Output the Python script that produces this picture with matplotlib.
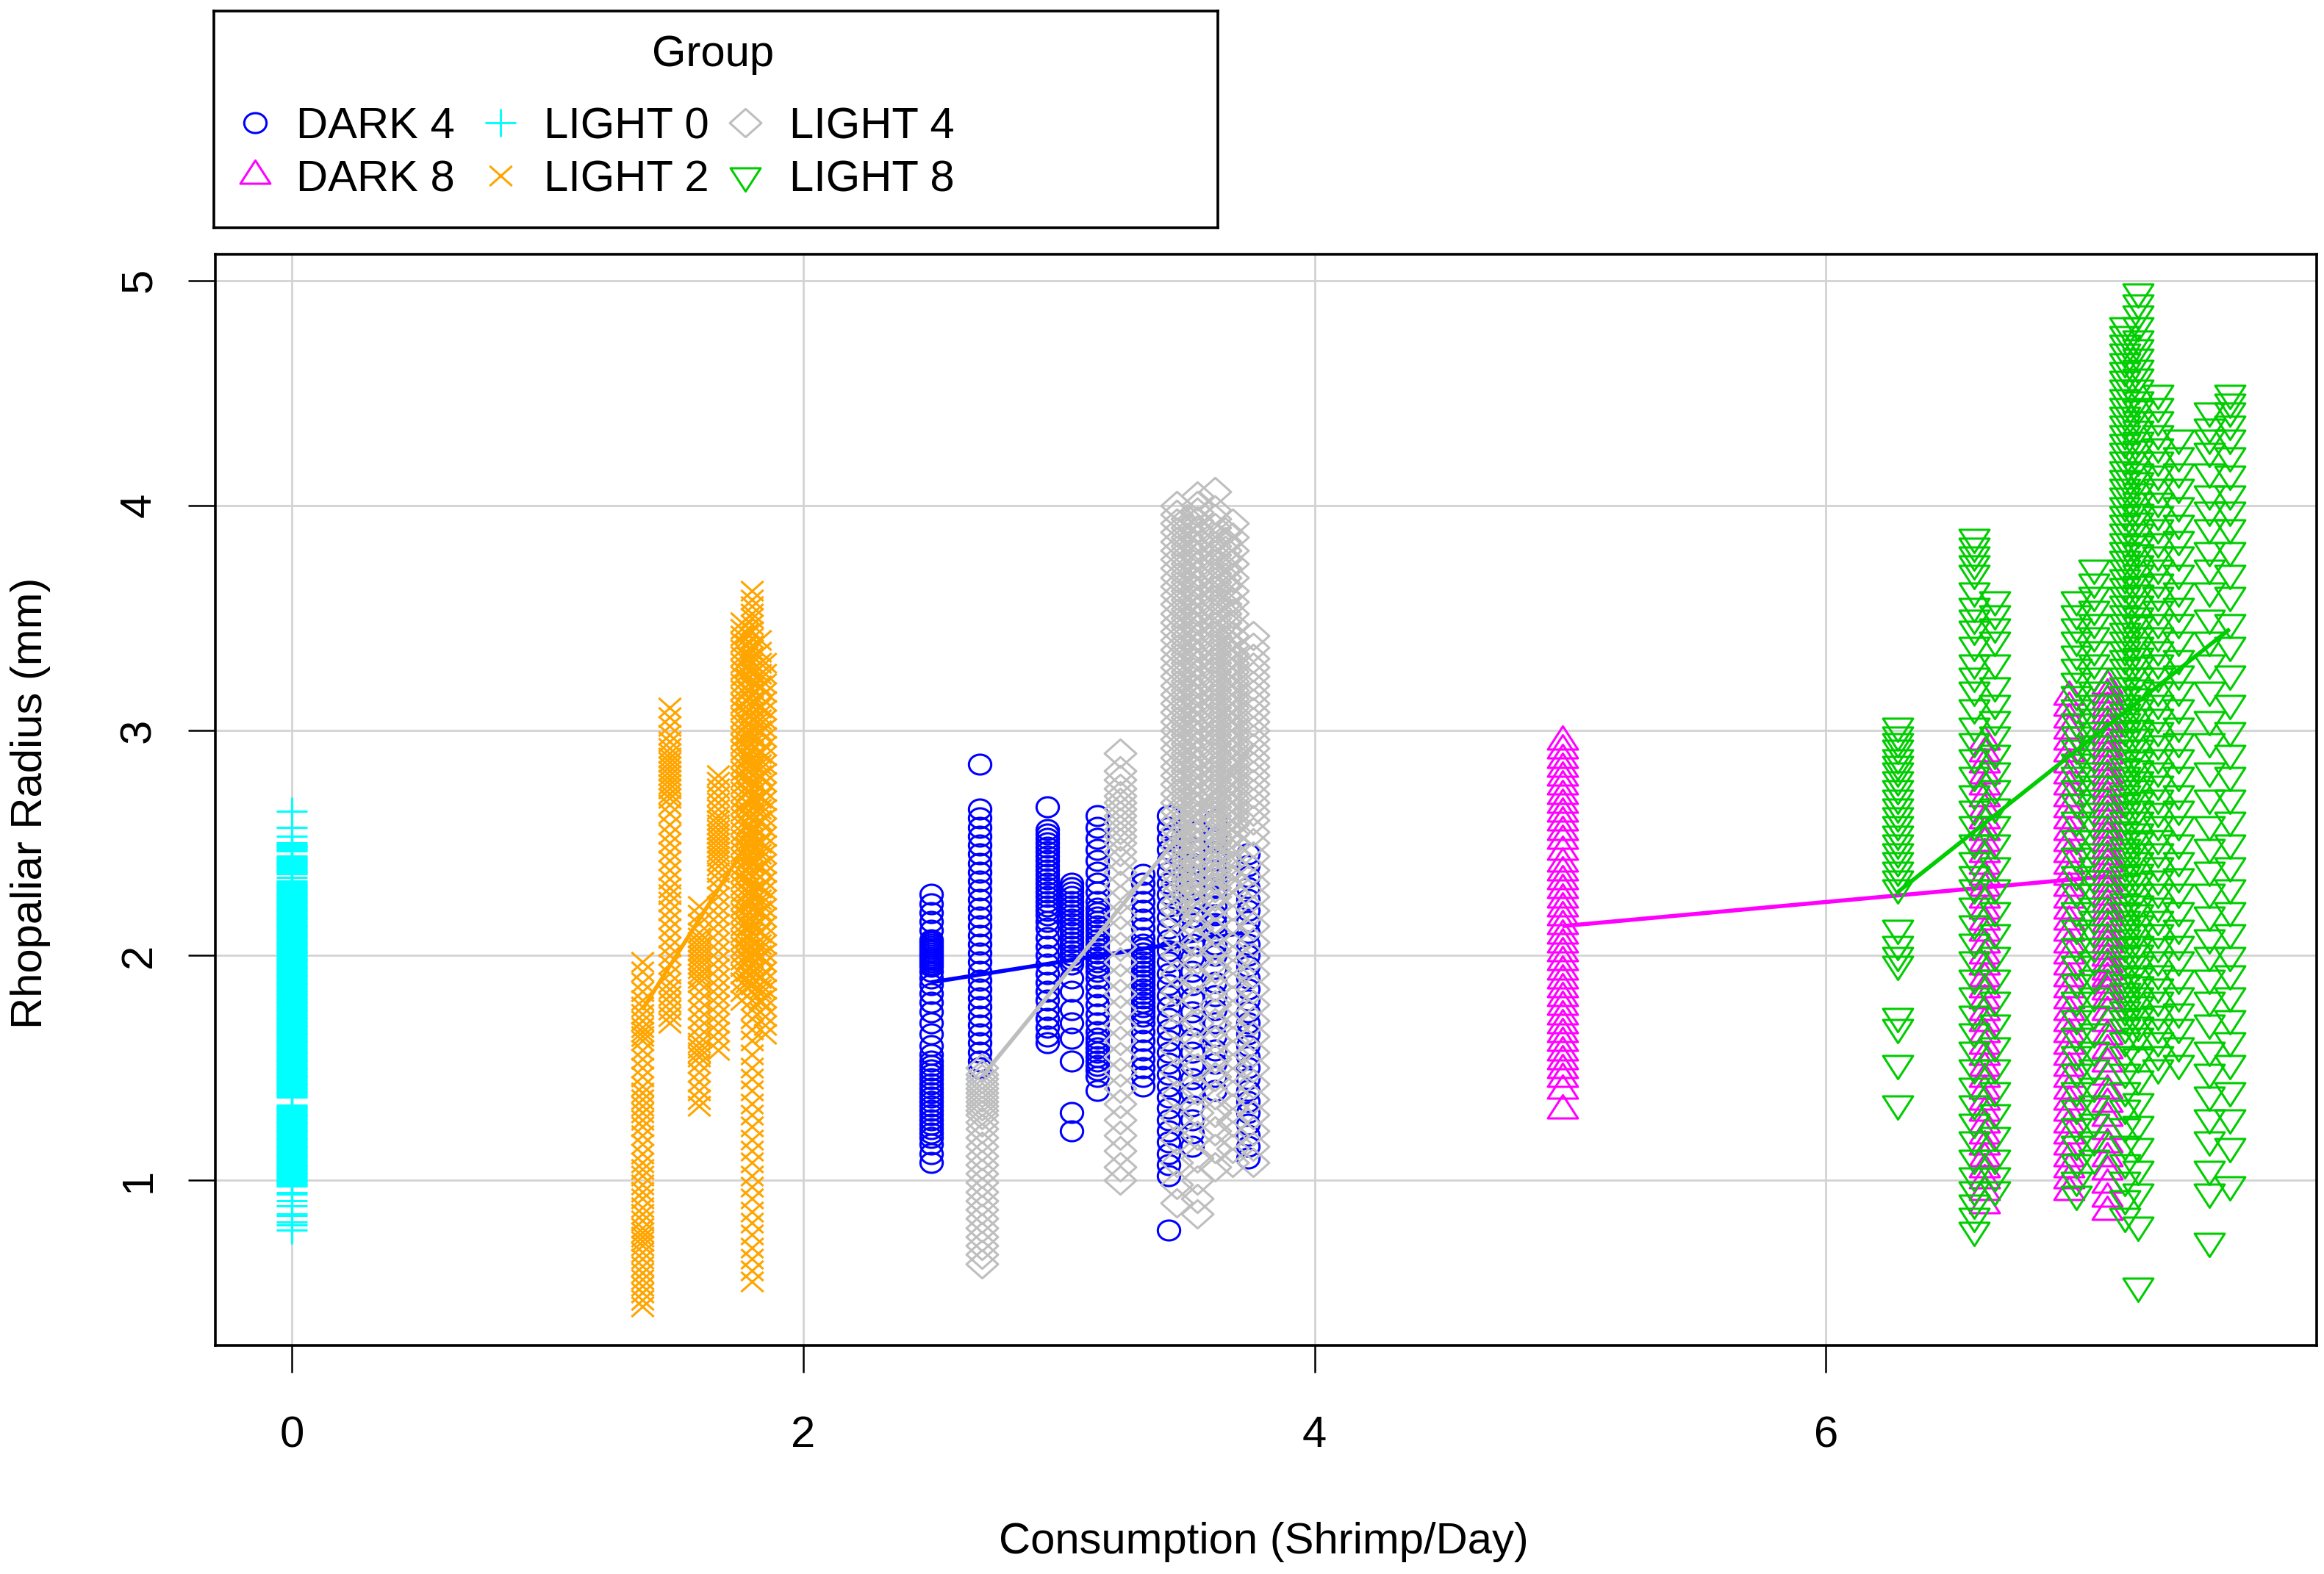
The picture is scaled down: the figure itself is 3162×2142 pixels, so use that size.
import numpy as np
import matplotlib
matplotlib.use("Agg")
import matplotlib.pyplot as plt
from matplotlib.path import Path

plt.rcParams['font.family'] = ['Liberation Sans', 'DejaVu Sans']

# ---------------- data ----------------
GROUPS = ["DARK 4", "DARK 8", "LIGHT 0", "LIGHT 2", "LIGHT 4", "LIGHT 8"]
COLORS = ["#0000FF", "#FF00FF", "#00FFFF", "#FFA500", "#BEBEBE", "#00CD00"]

DARK4_X = [2.50, 2.69, 2.955, 3.05, 3.15, 3.33, 3.43, 3.52, 3.61, 3.74]
DARK4_Y = [
    [2.27, 2.23, 2.19, 2.15, 2.11, 2.07, 2.06, 2.05, 2.04, 2.03, 2.02, 2.01, 2.00, 1.99, 1.98, 1.97,
     1.96, 1.95, 1.93, 1.90, 1.87, 1.83, 1.79, 1.75, 1.70, 1.65, 1.60, 1.56, 1.53, 1.51, 1.49, 1.47,
     1.45, 1.43, 1.41, 1.39, 1.37, 1.35, 1.33, 1.31, 1.29, 1.27, 1.25, 1.23, 1.21, 1.19, 1.16, 1.12, 1.08],
    [2.85, 2.65, 2.61, 2.57, 2.53, 2.49, 2.45, 2.41, 2.37, 2.33, 2.29, 2.25, 2.21, 2.17, 2.13, 2.09,
     2.05, 2.01, 1.97, 1.93, 1.89, 1.85, 1.81, 1.77, 1.73, 1.69, 1.65, 1.61, 1.57, 1.53, 1.50],
    [2.66, 2.56, 2.54, 2.52, 2.50, 2.48, 2.46, 2.44, 2.42, 2.40, 2.38, 2.36, 2.34, 2.32, 2.30, 2.28,
     2.26, 2.24, 2.22, 2.20, 2.18, 2.15, 2.12, 2.08, 2.04, 2.00, 1.96, 1.92, 1.88, 1.84, 1.80, 1.76,
     1.72, 1.68, 1.64, 1.61],
    [2.32, 2.30, 2.28, 2.26, 2.24, 2.22, 2.20, 2.18, 2.16, 2.14, 2.12, 2.10, 2.08, 2.06, 2.04, 2.02,
     2.00, 1.98, 1.96, 1.90, 1.84, 1.76, 1.70, 1.63, 1.53, 1.30, 1.22],
    [2.62, 2.57, 2.52, 2.47, 2.42, 2.37, 2.32, 2.28, 2.24, 2.21, 2.19, 2.17, 2.15, 2.13, 2.11, 2.09,
     2.07, 2.05, 2.03, 2.01, 1.99, 1.97, 1.95, 1.93, 1.90, 1.86, 1.82, 1.78, 1.74, 1.70, 1.66, 1.63,
     1.61, 1.59, 1.57, 1.55, 1.53, 1.51, 1.49, 1.46, 1.40],
    [2.36, 2.32, 2.28, 2.24, 2.20, 2.16, 2.12, 2.08, 2.05, 2.03, 2.01, 1.99, 1.97, 1.95, 1.93, 1.91,
     1.89, 1.87, 1.85, 1.83, 1.81, 1.79, 1.77, 1.75, 1.73, 1.70, 1.66, 1.62, 1.58, 1.54, 1.50, 1.46, 1.42],
    [2.62, 2.57, 2.52, 2.47, 2.42, 2.37, 2.32, 2.27, 2.22, 2.17, 2.12, 2.07, 2.02, 1.97, 1.92, 1.87,
     1.82, 1.77, 1.72, 1.67, 1.62, 1.57, 1.52, 1.47, 1.42, 1.37, 1.32, 1.27, 1.22, 1.17, 1.12, 1.07,
     1.02, 0.78],
    [2.55, 2.48, 2.41, 2.35, 2.29, 2.23, 2.17, 2.11, 2.05, 1.99, 1.93, 1.87, 1.81, 1.75, 1.69, 1.63,
     1.57, 1.51, 1.45, 1.39, 1.33, 1.27, 1.21, 1.15],
    [2.60, 2.52, 2.46, 2.42, 2.38, 2.34, 2.30, 2.26, 2.22, 2.18, 2.14, 2.10, 2.05, 2.00, 1.94, 1.88,
     1.82, 1.76, 1.70, 1.64, 1.58, 1.52, 1.46, 1.40],
    [2.45, 2.40, 2.35, 2.30, 2.25, 2.20, 2.15, 2.10, 2.05, 2.00, 1.95, 1.90, 1.85, 1.80, 1.75, 1.70,
     1.65, 1.60, 1.55, 1.50, 1.45, 1.40, 1.35, 1.30, 1.25, 1.20, 1.15, 1.10],
]

DARK8_X = [4.97, 6.62, 6.95, 7.10]
DARK8_Y = [
    [2.95, 2.91, 2.87, 2.83, 2.79, 2.75, 2.71, 2.67, 2.63, 2.59, 2.55, 2.51, 2.46, 2.41, 2.37, 2.33,
     2.29, 2.25, 2.21, 2.17, 2.13, 2.09, 2.05, 2.01, 1.97, 1.93, 1.89, 1.85, 1.81, 1.77, 1.73, 1.69,
     1.65, 1.61, 1.57, 1.53, 1.49, 1.45, 1.40, 1.31],
    [2.95, 2.90, 2.85, 2.80, 2.75, 2.70, 2.65, 2.60, 2.55, 2.50, 2.45, 2.40, 2.35, 2.30, 2.25, 2.20,
     2.15, 2.10, 2.05, 2.00, 1.95, 1.90, 1.85, 1.80, 1.75, 1.70, 1.65, 1.60, 1.55, 1.50, 1.45, 1.40,
     1.35, 1.30, 1.25, 1.20, 1.15, 1.10, 1.05, 1.00, 0.95, 0.89],
    [3.15, 3.10, 3.05, 3.00, 2.95, 2.90, 2.85, 2.80, 2.75, 2.70, 2.65, 2.60, 2.55, 2.50, 2.45, 2.40,
     2.35, 2.30, 2.25, 2.20, 2.15, 2.10, 2.05, 2.00, 1.95, 1.90, 1.85, 1.80, 1.75, 1.70, 1.65, 1.60,
     1.55, 1.50, 1.45, 1.40, 1.35, 1.30, 1.25, 1.20, 1.15, 1.10, 1.05, 1.00, 0.95],
    [3.20, 3.16, 3.13, 3.10, 3.07, 3.04, 3.01, 2.98, 2.95, 2.92, 2.89, 2.86, 2.83, 2.80, 2.77, 2.74,
     2.71, 2.68, 2.65, 2.62, 2.59, 2.56, 2.53, 2.50, 2.47, 2.44, 2.41, 2.38, 2.35, 2.32, 2.29, 2.26,
     2.23, 2.20, 2.17, 2.14, 2.11, 2.08, 2.05, 2.02, 1.99, 1.96, 1.93, 1.90, 1.87, 1.84, 1.80, 1.75,
     1.70, 1.64, 1.58, 1.52, 1.46, 1.40, 1.34, 1.28, 1.22, 1.16, 1.10, 1.04, 0.98, 0.92, 0.86],
]

LIGHT0_X = [0.0]
LIGHT0_Y = [
    [2.640, 2.570, 2.530, 2.500, 2.494, 2.488, 2.482, 2.476, 2.470, 2.464,
     2.440, 2.434, 2.428, 2.422, 2.416, 2.410, 2.404, 2.398, 2.392, 2.386, 2.380, 2.374, 2.368, 2.362,
     2.345, 2.330, 2.324, 2.318, 2.312, 2.306, 2.300, 2.294, 2.288, 2.282, 2.276, 2.270, 2.264, 2.258, 2.252,
     2.246, 2.240, 2.234, 2.228, 2.222, 2.216, 2.210, 2.204, 2.198, 2.192, 2.186, 2.180, 2.174, 2.168,
     2.162, 2.156, 2.150, 2.144, 2.138, 2.132, 2.126, 2.120, 2.114, 2.108, 2.102, 2.096, 2.090, 2.084,
     2.078, 2.072, 2.066, 2.060, 2.054, 2.048, 2.042, 2.036, 2.030, 2.024, 2.018, 2.012, 2.006, 2.000,
     1.994, 1.988, 1.982, 1.976, 1.970, 1.964, 1.958, 1.952, 1.946, 1.940, 1.934, 1.928, 1.922, 1.916,
     1.910, 1.904, 1.898, 1.892, 1.886, 1.880, 1.874, 1.868, 1.862, 1.856, 1.850, 1.844, 1.838, 1.832,
     1.826, 1.820, 1.814, 1.808, 1.802, 1.796, 1.790, 1.784, 1.778, 1.772, 1.766, 1.760, 1.754, 1.748,
     1.742, 1.736, 1.730, 1.724, 1.718, 1.712, 1.706, 1.700, 1.694, 1.688, 1.682, 1.676, 1.670, 1.664,
     1.658, 1.652, 1.646, 1.640, 1.634, 1.628, 1.622, 1.616, 1.610, 1.604, 1.598, 1.592, 1.586, 1.580,
     1.574, 1.568, 1.562, 1.556, 1.550, 1.544, 1.538, 1.532, 1.526, 1.520, 1.514, 1.508, 1.502, 1.496,
     1.490, 1.484, 1.478, 1.472, 1.466, 1.460, 1.454, 1.448, 1.442, 1.436, 1.430, 1.424, 1.418, 1.412,
     1.406, 1.400, 1.394, 1.388, 1.382, 1.376, 1.370,
     1.335, 1.329, 1.323, 1.317, 1.311, 1.305, 1.299, 1.293, 1.287, 1.281, 1.275, 1.269, 1.263, 1.257,
     1.251, 1.245, 1.239, 1.233, 1.227, 1.221, 1.215, 1.209, 1.203, 1.197, 1.191, 1.185, 1.179, 1.173,
     1.167, 1.161, 1.155, 1.149, 1.143, 1.137, 1.131, 1.125, 1.119, 1.113, 1.107, 1.101, 1.095, 1.089,
     1.083, 1.077, 1.071, 1.065, 1.059, 1.053, 1.047, 1.041, 1.035, 1.029, 1.023, 1.017, 1.011, 1.005,
     0.999, 0.993, 0.987, 0.981, 0.975, 0.945, 0.940, 0.910, 0.885, 0.850, 0.845, 0.815, 0.800, 0.780],
]

LIGHT2_X = [1.37, 1.478, 1.593, 1.667, 1.76, 1.78, 1.80, 1.83, 1.85]
LIGHT2_Y = [
    [1.97, 1.93, 1.88, 1.84, 1.80, 1.77, 1.74, 1.71, 1.68, 1.66, 1.64, 1.62, 1.58, 1.54, 1.50, 1.46,
     1.42, 1.39, 1.36, 1.33, 1.30, 1.27, 1.24, 1.20, 1.16, 1.12, 1.08, 1.05, 1.02, 0.98, 0.95, 0.92,
     0.88, 0.85, 0.82, 0.79, 0.77, 0.75, 0.73, 0.71, 0.68, 0.65, 0.62, 0.59, 0.56, 0.53, 0.50, 0.47, 0.44],
    [3.10, 3.06, 3.02, 2.98, 2.95, 2.92, 2.90, 2.88, 2.86, 2.84, 2.82, 2.80, 2.78, 2.76, 2.74, 2.72,
     2.70, 2.67, 2.63, 2.58, 2.54, 2.50, 2.46, 2.42, 2.38, 2.34, 2.30, 2.27, 2.24, 2.20, 2.16, 2.12,
     2.08, 2.04, 2.00, 1.96, 1.92, 1.88, 1.85, 1.82, 1.79, 1.76, 1.73, 1.70],
    [2.22, 2.18, 2.14, 2.10, 2.08, 2.06, 2.04, 2.02, 2.00, 1.98, 1.96, 1.94, 1.92, 1.90, 1.88, 1.84,
     1.80, 1.76, 1.72, 1.68, 1.64, 1.61, 1.59, 1.57, 1.55, 1.52, 1.48, 1.44, 1.40, 1.36, 1.33],
    [2.80, 2.77, 2.74, 2.71, 2.68, 2.65, 2.62, 2.60, 2.58, 2.56, 2.54, 2.52, 2.50, 2.48, 2.46, 2.44,
     2.42, 2.40, 2.37, 2.34, 2.30, 2.26, 2.22, 2.18, 2.14, 2.10, 2.06, 2.02, 1.98, 1.94, 1.90, 1.86,
     1.82, 1.78, 1.74, 1.70, 1.66, 1.62, 1.58],
    [3.48, 3.45, 3.42, 3.39, 3.36, 3.33, 3.30, 3.27, 3.24, 3.21, 3.18, 3.15, 3.12, 3.09, 3.06, 3.03,
     3.00, 2.97, 2.94, 2.91, 2.88, 2.85, 2.82, 2.79, 2.76, 2.73, 2.70, 2.67, 2.64, 2.61, 2.58, 2.55,
     2.52, 2.49, 2.46, 2.43, 2.40, 2.37, 2.34, 2.31, 2.28, 2.25, 2.22, 2.19, 2.16, 2.13, 2.10, 2.07,
     2.04, 2.01, 1.98, 1.95, 1.92, 1.88, 1.84, 1.80],
    [3.43, 3.38, 3.33, 3.28, 3.23, 3.18, 3.13, 3.08, 3.03, 2.98, 2.93, 2.88, 2.83, 2.78, 2.73, 2.68,
     2.63, 2.58, 2.53, 2.48, 2.43, 2.38, 2.33, 2.28, 2.23, 2.18, 2.13, 2.08, 2.03, 1.98, 1.93, 1.88],
    [3.62, 3.58, 3.55, 3.52, 3.50, 3.47, 3.44, 3.41, 3.38, 3.36, 3.33, 3.30, 3.27, 3.25, 3.22, 3.19,
     3.16, 3.13, 3.11, 3.08, 3.05, 3.02, 2.99, 2.97, 2.94, 2.91, 2.88, 2.85, 2.83, 2.80, 2.77, 2.74,
     2.71, 2.69, 2.66, 2.63, 2.60, 2.57, 2.55, 2.52, 2.49, 2.46, 2.43, 2.41, 2.38, 2.35, 2.32, 2.29,
     2.27, 2.24, 2.21, 2.18, 2.15, 2.13, 2.10, 2.07, 2.04, 2.01, 1.99, 1.96, 1.93, 1.90, 1.87, 1.84,
     1.80, 1.76, 1.72, 1.67, 1.62, 1.56, 1.50, 1.45, 1.40, 1.34, 1.29, 1.24, 1.18, 1.13, 1.08, 1.02,
     0.97, 0.92, 0.86, 0.81, 0.76, 0.70, 0.65, 0.60, 0.55],
    [3.40, 3.35, 3.30, 3.25, 3.20, 3.15, 3.10, 3.05, 3.00, 2.95, 2.90, 2.85, 2.80, 2.75, 2.70, 2.65,
     2.60, 2.55, 2.50, 2.45, 2.40, 2.35, 2.30, 2.25, 2.20, 2.15, 2.10, 2.05, 2.00, 1.95, 1.90, 1.85,
     1.80, 1.75],
    [3.30, 3.25, 3.21, 3.17, 3.13, 3.09, 3.05, 3.01, 2.97, 2.93, 2.89, 2.85, 2.81, 2.77, 2.73, 2.69,
     2.65, 2.61, 2.57, 2.53, 2.49, 2.45, 2.41, 2.37, 2.33, 2.29, 2.25, 2.21, 2.17, 2.13, 2.09, 2.05,
     2.01, 1.97, 1.93, 1.89, 1.85, 1.81, 1.77, 1.73, 1.69, 1.65],
]

LIGHT4_X = [2.70, 3.24, 3.46, 3.50, 3.54, 3.61, 3.65, 3.68, 3.76]
LIGHT4_Y = [
    [1.50, 1.47, 1.45, 1.43, 1.41, 1.39, 1.37, 1.35, 1.33, 1.31, 1.29, 1.26, 1.23, 1.19, 1.15, 1.11,
     1.07, 1.03, 0.99, 0.95, 0.91, 0.87, 0.83, 0.79, 0.75, 0.71, 0.67, 0.63],
    [2.90, 2.82, 2.78, 2.74, 2.71, 2.68, 2.65, 2.62, 2.59, 2.56, 2.53, 2.50, 2.46, 2.42, 2.37, 2.31,
     2.25, 2.18, 2.11, 2.04, 1.97, 1.90, 1.83, 1.76, 1.69, 1.62, 1.55, 1.48, 1.41, 1.34, 1.27, 1.20,
     1.13, 1.06, 1.00],
    [4.00, 3.96, 3.92, 3.88, 3.84, 3.80, 3.76, 3.72, 3.68, 3.64, 3.60, 3.56, 3.52, 3.48, 3.44, 3.40,
     3.36, 3.32, 3.28, 3.24, 3.20, 3.16, 3.12, 3.08, 3.04, 3.00, 2.96, 2.92, 2.88, 2.84, 2.80, 2.76,
     2.72, 2.68, 2.64, 2.60, 2.56, 2.52, 2.48, 2.44, 2.40, 2.36, 2.32, 2.28, 2.24, 2.20, 2.15, 2.08,
     2.00, 1.92, 1.84, 1.76, 1.68, 1.58, 1.48, 1.38, 1.28, 1.18, 1.08, 0.98, 0.90],
    [3.94, 3.90, 3.86, 3.82, 3.78, 3.74, 3.70, 3.66, 3.62, 3.58, 3.54, 3.50, 3.46, 3.42, 3.38, 3.34,
     3.30, 3.26, 3.22, 3.18, 3.14, 3.10, 3.06, 3.02, 2.98, 2.94, 2.90, 2.86, 2.82, 2.78, 2.74, 2.70,
     2.66, 2.62, 2.58, 2.54, 2.50, 2.46, 2.42, 2.38, 2.34, 2.30, 2.26],
    [4.04, 4.00, 3.97, 3.93, 3.89, 3.85, 3.81, 3.77, 3.73, 3.69, 3.65, 3.61, 3.57, 3.53, 3.49, 3.45,
     3.41, 3.37, 3.33, 3.29, 3.25, 3.21, 3.17, 3.13, 3.09, 3.05, 3.01, 2.97, 2.93, 2.89, 2.85, 2.81,
     2.77, 2.73, 2.69, 2.65, 2.61, 2.57, 2.53, 2.49, 2.45, 2.41, 2.37, 2.33, 2.29, 2.25, 2.21, 2.17,
     2.12, 2.06, 1.98, 1.90, 1.80, 1.70, 1.60, 1.50, 1.40, 1.30, 1.20, 1.10, 1.00, 0.92, 0.85],
    [4.06, 3.98, 3.94, 3.90, 3.86, 3.82, 3.78, 3.74, 3.70, 3.66, 3.62, 3.58, 3.54, 3.50, 3.46, 3.42,
     3.38, 3.34, 3.30, 3.26, 3.22, 3.18, 3.14, 3.10, 3.06, 3.02, 2.98, 2.94, 2.90, 2.86, 2.82, 2.78,
     2.74, 2.70, 2.66, 2.62, 2.58, 2.54, 2.50, 2.46, 2.42, 2.38, 2.34, 2.30, 2.26, 2.22, 2.16, 2.10,
     2.02, 1.94, 1.86, 1.78, 1.70, 1.62, 1.54, 1.46, 1.38, 1.30, 1.22, 1.14, 1.06],
    [3.88, 3.84, 3.80, 3.76, 3.72, 3.68, 3.64, 3.60, 3.56, 3.52, 3.48, 3.44, 3.40, 3.36, 3.32, 3.28,
     3.24, 3.20, 3.16, 3.12, 3.08, 3.04, 3.00, 2.96, 2.92, 2.88, 2.84, 2.80, 2.76, 2.72, 2.68, 2.64,
     2.60, 2.56, 2.52, 2.48, 2.44, 2.40, 2.36, 2.32],
    [3.92, 3.86, 3.80, 3.74, 3.68, 3.62, 3.57, 3.52, 3.47, 3.42, 3.38, 3.34, 3.30, 3.26, 3.22, 3.18,
     3.14, 3.10, 3.06, 3.02, 2.98, 2.94, 2.90, 2.86, 2.82, 2.78, 2.74, 2.70, 2.66, 2.62, 2.58, 2.54,
     2.50, 2.45, 2.40, 2.34, 2.28, 2.22, 2.16, 2.10, 2.04, 1.98, 1.92, 1.86, 1.80, 1.74, 1.68, 1.62,
     1.56, 1.50, 1.44, 1.38, 1.32, 1.26, 1.20, 1.14, 1.08],
    [3.42, 3.37, 3.32, 3.28, 3.24, 3.20, 3.16, 3.12, 3.08, 3.04, 3.00, 2.96, 2.92, 2.88, 2.84, 2.80,
     2.76, 2.72, 2.68, 2.64, 2.60, 2.55, 2.50, 2.44, 2.38, 2.32, 2.26, 2.20, 2.13, 2.06, 1.99, 1.92,
     1.85, 1.78, 1.71, 1.64, 1.57, 1.50, 1.43, 1.36, 1.29, 1.22, 1.15, 1.08],
]

LIGHT8_X = [6.28, 6.58, 6.66, 6.98, 7.05, 7.17, 7.22, 7.30, 7.38, 7.50, 7.58]
LIGHT8_Y = [
    [3.02, 2.98, 2.95, 2.92, 2.88, 2.85, 2.82, 2.78, 2.74, 2.70, 2.66, 2.62, 2.58, 2.54, 2.50, 2.46,
     2.42, 2.38, 2.34, 2.30, 2.12, 2.05, 2.00, 1.96, 1.73, 1.68, 1.52, 1.34],
    [3.86, 3.82, 3.78, 3.74, 3.70, 3.62, 3.55, 3.50, 3.45, 3.38, 3.30, 3.24, 3.18, 3.10, 3.02, 2.95,
     2.88, 2.80, 2.72, 2.65, 2.58, 2.50, 2.42, 2.36, 2.30, 2.22, 2.14, 2.06, 1.98, 1.90, 1.82, 1.74,
     1.66, 1.58, 1.50, 1.42, 1.34, 1.26, 1.18, 1.10, 1.02, 0.96, 0.90, 0.84, 0.78],
    [3.58, 3.52, 3.46, 3.40, 3.30, 3.20, 3.12, 3.05, 2.98, 2.90, 2.82, 2.74, 2.66, 2.58, 2.50, 2.40,
     2.30, 2.20, 2.10, 2.00, 1.90, 1.80, 1.70, 1.60, 1.50, 1.40, 1.30, 1.20, 1.10, 1.02, 0.96],
    [3.58, 3.52, 3.46, 3.40, 3.34, 3.28, 3.22, 3.16, 3.10, 3.04, 2.98, 2.92, 2.86, 2.80, 2.74, 2.68,
     2.60, 2.52, 2.44, 2.36, 2.28, 2.20, 2.12, 2.04, 1.96, 1.88, 1.80, 1.72, 1.64, 1.56, 1.48, 1.40,
     1.32, 1.24, 1.16, 1.08, 1.00, 0.94],
    [3.72, 3.66, 3.60, 3.54, 3.48, 3.42, 3.36, 3.30, 3.24, 3.18, 3.12, 3.06, 3.00, 2.94, 2.88, 2.82,
     2.76, 2.70, 2.64, 2.58, 2.52, 2.46, 2.40, 2.34, 2.28, 2.22, 2.16, 2.10, 2.04, 1.98, 1.90, 1.82,
     1.74, 1.66, 1.58, 1.50, 1.42, 1.34, 1.26, 1.18, 1.10],
    [4.80, 4.76, 4.72, 4.68, 4.64, 4.60, 4.56, 4.52, 4.48, 4.44, 4.40, 4.36, 4.32, 4.28, 4.24, 4.20,
     4.16, 4.12, 4.08, 4.04, 4.00, 3.96, 3.92, 3.88, 3.84, 3.80, 3.76, 3.72, 3.68, 3.64, 3.60, 3.56,
     3.52, 3.48, 3.44, 3.40, 3.36, 3.32, 3.28, 3.24, 3.20, 3.16, 3.12, 3.08, 3.04, 3.00, 2.96, 2.92,
     2.88, 2.84, 2.80, 2.76, 2.72, 2.68, 2.64, 2.60, 2.56, 2.52, 2.48, 2.44, 2.40, 2.36, 2.32, 2.28,
     2.24, 2.20, 2.16, 2.12, 2.08, 2.04, 2.00, 1.96, 1.92, 1.88, 1.84, 1.80, 1.76, 1.72, 1.68, 1.62,
     1.56, 1.48, 1.40, 1.32, 1.24, 1.16, 1.08, 1.00, 0.92, 0.84],
    [4.95, 4.90, 4.85, 4.80, 4.74, 4.70, 4.66, 4.61, 4.57, 4.52, 4.47, 4.43, 4.38, 4.34, 4.29, 4.25,
     4.20, 4.15, 4.11, 4.06, 4.02, 3.97, 3.93, 3.88, 3.83, 3.79, 3.74, 3.70, 3.65, 3.61, 3.56, 3.51,
     3.47, 3.42, 3.38, 3.33, 3.29, 3.24, 3.19, 3.15, 3.10, 3.06, 3.01, 2.97, 2.92, 2.87, 2.83, 2.78,
     2.74, 2.69, 2.65, 2.60, 2.55, 2.51, 2.46, 2.42, 2.37, 2.33, 2.28, 2.23, 2.19, 2.14, 2.10, 2.05,
     2.01, 1.96, 1.91, 1.87, 1.82, 1.78, 1.73, 1.69, 1.64, 1.55, 1.45, 1.35, 1.25, 1.15, 1.05, 0.95,
     0.80, 0.53],
    [4.50, 4.44, 4.38, 4.32, 4.26, 4.20, 4.14, 4.08, 4.02, 3.96, 3.90, 3.84, 3.78, 3.72, 3.66, 3.60,
     3.54, 3.48, 3.42, 3.36, 3.30, 3.24, 3.18, 3.12, 3.06, 3.00, 2.94, 2.88, 2.82, 2.76, 2.70, 2.64,
     2.58, 2.52, 2.46, 2.40, 2.34, 2.28, 2.22, 2.16, 2.10, 2.04, 1.98, 1.92, 1.86, 1.80, 1.74, 1.68,
     1.62, 1.56, 1.50],
    [4.30, 4.22, 4.15, 4.08, 4.00, 3.92, 3.85, 3.78, 3.70, 3.62, 3.55, 3.48, 3.40, 3.32, 3.25, 3.18,
     3.10, 3.02, 2.95, 2.88, 2.80, 2.72, 2.65, 2.58, 2.50, 2.42, 2.35, 2.28, 2.20, 2.12, 2.05, 1.98,
     1.90, 1.82, 1.75, 1.68, 1.60, 1.52],
    [4.42, 4.35, 4.30, 4.24, 4.15, 4.05, 3.98, 3.90, 3.80, 3.72, 3.62, 3.50, 3.40, 3.30, 3.18, 3.05,
     2.95, 2.82, 2.70, 2.58, 2.48, 2.38, 2.28, 2.18, 2.08, 2.00, 1.90, 1.80, 1.70, 1.58, 1.48, 1.38,
     1.28, 1.18, 1.05, 0.95, 0.73],
    [4.50, 4.46, 4.42, 4.36, 4.30, 4.22, 4.14, 4.05, 3.98, 3.90, 3.80, 3.70, 3.60, 3.48, 3.38, 3.25,
     3.12, 3.00, 2.90, 2.80, 2.70, 2.60, 2.50, 2.40, 2.30, 2.20, 2.10, 2.00, 1.92, 1.82, 1.72, 1.62,
     1.52, 1.40, 1.28, 1.15, 0.98],
]

# regression lines per group (None = no line drawn)
REG_INTERCEPT = [1.43, 1.613, None, -0.708, -2.291, -3.372]
REG_SLOPE = [0.18, 0.104, None, 1.80, 1.39, 0.90]

X_TICKS = [0, 2, 4, 6]
Y_TICKS = [1, 2, 3, 4, 5]
X_LABEL = "Consumption (Shrimp/Day)"
Y_LABEL = "Rhopaliar Radius (mm)"
LEGEND_TITLE = "Group"

GROUP_X = [DARK4_X, DARK8_X, LIGHT0_X, LIGHT2_X, LIGHT4_X, LIGHT8_X]
GROUP_Y = [DARK4_Y, DARK8_Y, LIGHT0_Y, LIGHT2_Y, LIGHT4_Y, LIGHT8_Y]

# ---------------- R-like symbols ----------------
STRETCH = 1.12
CHAR_PT = 13.0
R0 = 0.375
TR_R = R0 * 1.5551
TR_XC = R0 * 1.3468
TR_YC = R0 * 0.7776
DI = R0 * np.sqrt(2)


def closed_path(verts):
    v = list(verts) + [verts[0]]
    codes = [Path.MOVETO] + [Path.LINETO] * (len(v) - 2) + [Path.CLOSEPOLY]
    return Path(v, codes)


ang = np.linspace(0, 2 * np.pi, 60, endpoint=False)
P_CIRCLE = closed_path([(STRETCH * R0 * np.cos(a), R0 * np.sin(a)) for a in ang])
P_TRI_UP = closed_path([(0, TR_R), (STRETCH * TR_XC, -TR_YC), (-STRETCH * TR_XC, -TR_YC)])
P_TRI_DN = closed_path([(0, -TR_R), (STRETCH * TR_XC, TR_YC), (-STRETCH * TR_XC, TR_YC)])
P_DIAMOND = closed_path([(STRETCH * DI, 0), (0, DI), (-STRETCH * DI, 0), (0, -DI)])
P_PLUS = Path([(-STRETCH * DI, 0), (STRETCH * DI, 0), (0, -DI), (0, DI)],
              [Path.MOVETO, Path.LINETO, Path.MOVETO, Path.LINETO])
P_CROSS = Path([(-STRETCH * R0, -R0), (STRETCH * R0, R0), (-STRETCH * R0, R0), (STRETCH * R0, -R0)],
               [Path.MOVETO, Path.LINETO, Path.MOVETO, Path.LINETO])

MARKERS = [P_CIRCLE, P_TRI_UP, P_PLUS, P_CROSS, P_DIAMOND, P_TRI_DN]


def msize(p):
    return 2 * np.max(np.abs(p.vertices)) * CHAR_PT


MEW = 1.1
FS = 21.5

# ---------------- figure ----------------
W, H = 3162, 2142
fig = plt.figure(figsize=(W / 200, H / 200), dpi=200)
ax = fig.add_axes([292.5 / W, 1 - 1831.0 / H, (3152.0 - 292.5) / W, (1831.0 - 346.0) / H])

ax.set_xlim(-0.301, 7.92)
ax.set_ylim(0.266, 5.116)
ax.set_axisbelow(True)
ax.grid(True, color='#D3D3D3', lw=1.0)

# points then regression line, group by group
for gi in range(len(GROUPS)):
    xs, ys = [], []
    for xv, col in zip(GROUP_X[gi], GROUP_Y[gi]):
        xs.extend([xv] * len(col))
        ys.extend(col)
    ax.plot(xs, ys, ls='none', marker=MARKERS[gi], ms=msize(MARKERS[gi]),
            mec=COLORS[gi], mfc='none', mew=MEW, zorder=3 + 2 * gi)
    if REG_SLOPE[gi] is not None:
        xl = np.array([min(GROUP_X[gi]), max(GROUP_X[gi])])
        ax.plot(xl, REG_INTERCEPT[gi] + REG_SLOPE[gi] * xl, color=COLORS[gi], lw=2.0,
                zorder=4 + 2 * gi, solid_capstyle='butt')

ax.set_xticks(X_TICKS)
ax.set_xticklabels([str(t) for t in X_TICKS])
ax.set_yticks(Y_TICKS)
ax.set_yticklabels([str(t) for t in Y_TICKS])
ax.tick_params(axis='both', direction='out', length=13.3, width=0.9, labelsize=FS, color='black')
ax.tick_params(axis='x', pad=21)
ax.tick_params(axis='y', pad=14, labelrotation=90)
for lab in ax.get_yticklabels():
    lab.set_va('center')
for sp in ax.spines.values():
    sp.set_linewidth(1.3)

fig.text(1719 / W, 43 / H, X_LABEL, ha='center', va='center', fontsize=FS)
fig.text(42 / W, 1 - 1093 / H, Y_LABEL, ha='center', va='center', fontsize=FS, rotation=90)

# ---------------- legend box ----------------
LX0, LX1, LY0, LY1 = 290.7, 1657.0, 15.0, 310.0
lax = fig.add_axes([LX0 / W, 1 - LY1 / H, (LX1 - LX0) / W, (LY1 - LY0) / H])
lax.set_xlim(LX0, LX1)
lax.set_ylim(LY1, LY0)
lax.set_xticks([])
lax.set_yticks([])
for sp in lax.spines.values():
    sp.set_linewidth(1.3)
lax.text(970, 69, LEGEND_TITLE, ha='center', va='center_baseline', fontsize=FS)
col_marker_x = [347, 681, 1014]
col_text_x = [403, 740, 1074]
row_y = [166.7, 239.0]
for gi, name in enumerate(GROUPS):
    c, r = gi // 2, gi % 2
    lax.plot([col_marker_x[c]], [row_y[r]], ls='none', marker=MARKERS[gi],
             ms=msize(MARKERS[gi]), mec=COLORS[gi], mfc='none', mew=MEW)
    lax.text(col_text_x[c], row_y[r], name, ha='left', va='center_baseline', fontsize=FS)

fig.savefig("out.png", dpi=200)
